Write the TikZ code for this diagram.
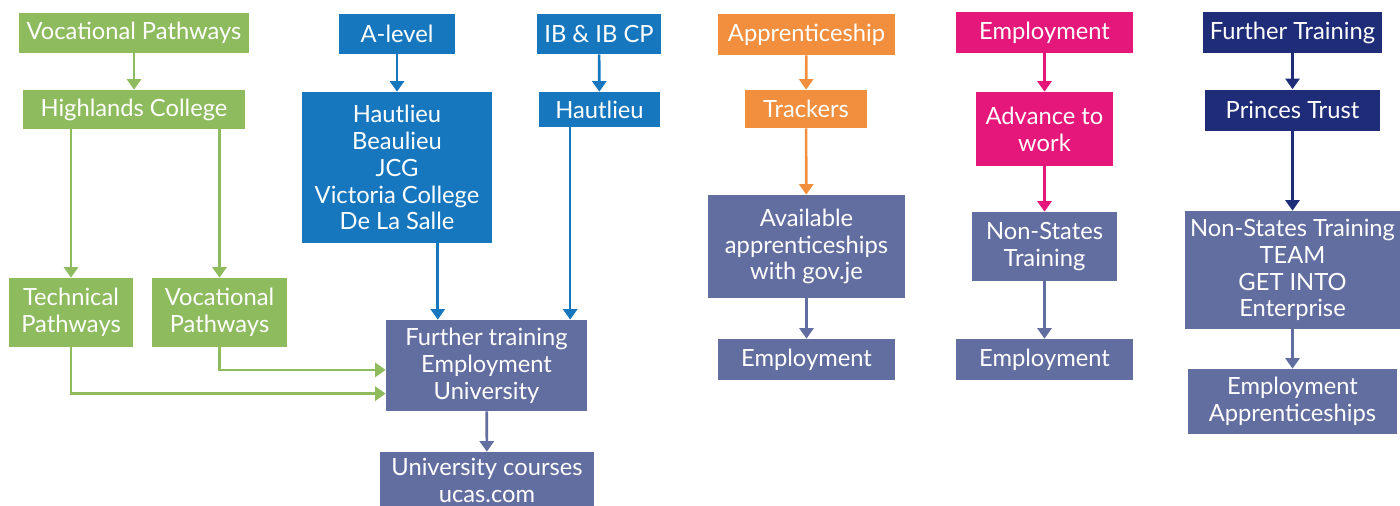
\documentclass[tikz,border=0pt]{standalone}
\usepackage{fontspec}
\setmainfont{Lato}
\usetikzlibrary{arrows.meta}

\definecolor{vocgreen}{HTML}{8DBB5E}
\definecolor{schoolblue}{HTML}{1777BE}
\definecolor{apporange}{HTML}{F28F3F}
\definecolor{emppink}{HTML}{E6177B}
\definecolor{trainnavy}{HTML}{1F2D78}
\definecolor{outslate}{HTML}{626DA0}

\tikzset{
  box/.style = {inner sep = 0pt, text = white, align = center,
                font = \fontsize{13.5}{15.3}\selectfont},
  flow/.style = {line width = 1.5pt, -{Triangle[width = 8pt, length = 6pt]}},
}

\begin{document}
\begin{tikzpicture}[x = 0.02cm, y = -0.02cm]
      \useasboundingbox (0, 0) rectangle (1400, 505);
      % green column
      \node[box, fill = vocgreen, minimum width = 4.6cm, minimum height = 0.8cm] (vp) at (134, 33) {Vocational Pathways};
      \node[box, fill = vocgreen, minimum width = 4.44cm, minimum height = 0.78cm] (hc) at (134, 109.5) {Highlands College};
      \node[box, fill = vocgreen, minimum width = 2.48cm, minimum height = 1.38cm] (tech) at (71, 312.5) {Technical\\Pathways};
      \node[box, fill = vocgreen, minimum width = 2.7cm, minimum height = 1.38cm] (voc) at (219.5, 312.5) {Vocational\\Pathways};
      % blue columns
      \node[box, fill = schoolblue, minimum width = 2.32cm, minimum height = 0.8cm] (alevel) at (397, 34) {A-level};
      \node[box, fill = schoolblue, minimum width = 3.8cm, minimum height = 3.02cm] (schools) at (397, 167.5) {Hautlieu\\Beaulieu\\JCG\\Victoria College\\De La Salle};
      \node[box, fill = schoolblue, minimum width = 2.48cm, minimum height = 0.8cm] (ib) at (599, 34) {IB \& IB CP};
      \node[box, fill = schoolblue, minimum width = 2.42cm, minimum height = 0.7cm] (hlieu) at (599.5, 109.5) {Hautlieu};
      \node[box, fill = outslate, minimum width = 4.02cm, minimum height = 1.82cm] (ft) at (486.5, 365.5) {Further training\\Employment\\University};
      \node[box, fill = outslate, minimum width = 4.28cm, minimum height = 1.14cm] (uni) at (487, 480.5) {University courses\\ucas.com};
      % orange column
      \node[box, fill = apporange, minimum width = 3.54cm, minimum height = 0.82cm] (appr) at (806.5, 34.5) {Apprenticeship};
      \node[box, fill = apporange, minimum width = 2.44cm, minimum height = 0.76cm] (track) at (806, 109) {Trackers};
      \node[box, fill = outslate, minimum width = 3.94cm, minimum height = 2.06cm] (avail) at (806.5, 246.5) {Available\\apprenticeships\\with gov.je};
      \node[box, fill = outslate, minimum width = 3.54cm, minimum height = 0.82cm] (emp1) at (806.5, 359.5) {Employment};
      % pink column
      \node[box, fill = emppink, minimum width = 3.54cm, minimum height = 0.82cm] (empl) at (1044.5, 32.5) {Employment};
      \node[box, fill = emppink, minimum width = 2.74cm, minimum height = 1.48cm] (adv) at (1044.5, 129) {Advance to\\work};
      \node[box, fill = outslate, minimum width = 2.9cm, minimum height = 1.38cm] (nst) at (1044.5, 246.5) {Non-States\\Training};
      \node[box, fill = outslate, minimum width = 3.54cm, minimum height = 0.82cm] (emp2) at (1044.5, 359.5) {Employment};
      % navy column
      \node[box, fill = trainnavy, minimum width = 3.58cm, minimum height = 0.82cm] (further) at (1292.5, 32.5) {Further Training};
      \node[box, fill = trainnavy, minimum width = 3.52cm, minimum height = 0.82cm] (princes) at (1292.5, 110) {Princes Trust};
      \node[box, fill = outslate, minimum width = 4.3cm, minimum height = 2.36cm] (nstt) at (1292.5, 270) {Non-States Training\\TEAM\\GET INTO\\Enterprise};
      \node[box, fill = outslate, minimum width = 4.2cm, minimum height = 1.3cm] (empapp) at (1292.5, 401.5) {Employment\\Apprenticeships};
      % connectors
      \draw[flow, vocgreen] (vp) -- (hc);
      \draw[flow, vocgreen] (tech |- hc.south) -- (tech);
      \draw[flow, vocgreen] (voc |- hc.south) -- (voc);
      \draw[flow, vocgreen] (voc.south) |- ([yshift = -2.5pt]ft.west);
      \draw[flow, vocgreen] (tech.south) |- ([yshift = -16pt]ft.west);
      \draw[flow, schoolblue] (alevel) -- (schools);
      \draw[flow, schoolblue] (ib) -- (hlieu);
      \draw[flow, schoolblue] ([xshift = 23.2pt]schools.south) -- ([xshift = 23.2pt]schools.south |- ft.north);
      \draw[flow, schoolblue] ([xshift = -16.7pt]hlieu.south) -- ([xshift = -16.7pt]hlieu.south |- ft.north);
      \draw[flow, outslate] (ft) -- (uni);
      \draw[flow, apporange] (appr) -- (track);
      \draw[flow, apporange] (track) -- (avail);
      \draw[flow, outslate] (avail) -- (emp1);
      \draw[flow, emppink] (empl) -- (adv);
      \draw[flow, emppink] (adv) -- (nst);
      \draw[flow, outslate] (nst) -- (emp2);
      \draw[flow, trainnavy] (further) -- (princes);
      \draw[flow, trainnavy] (princes) -- (nstt);
      \draw[flow, outslate] (nstt) -- (empapp);
    \end{tikzpicture}
\end{document}
